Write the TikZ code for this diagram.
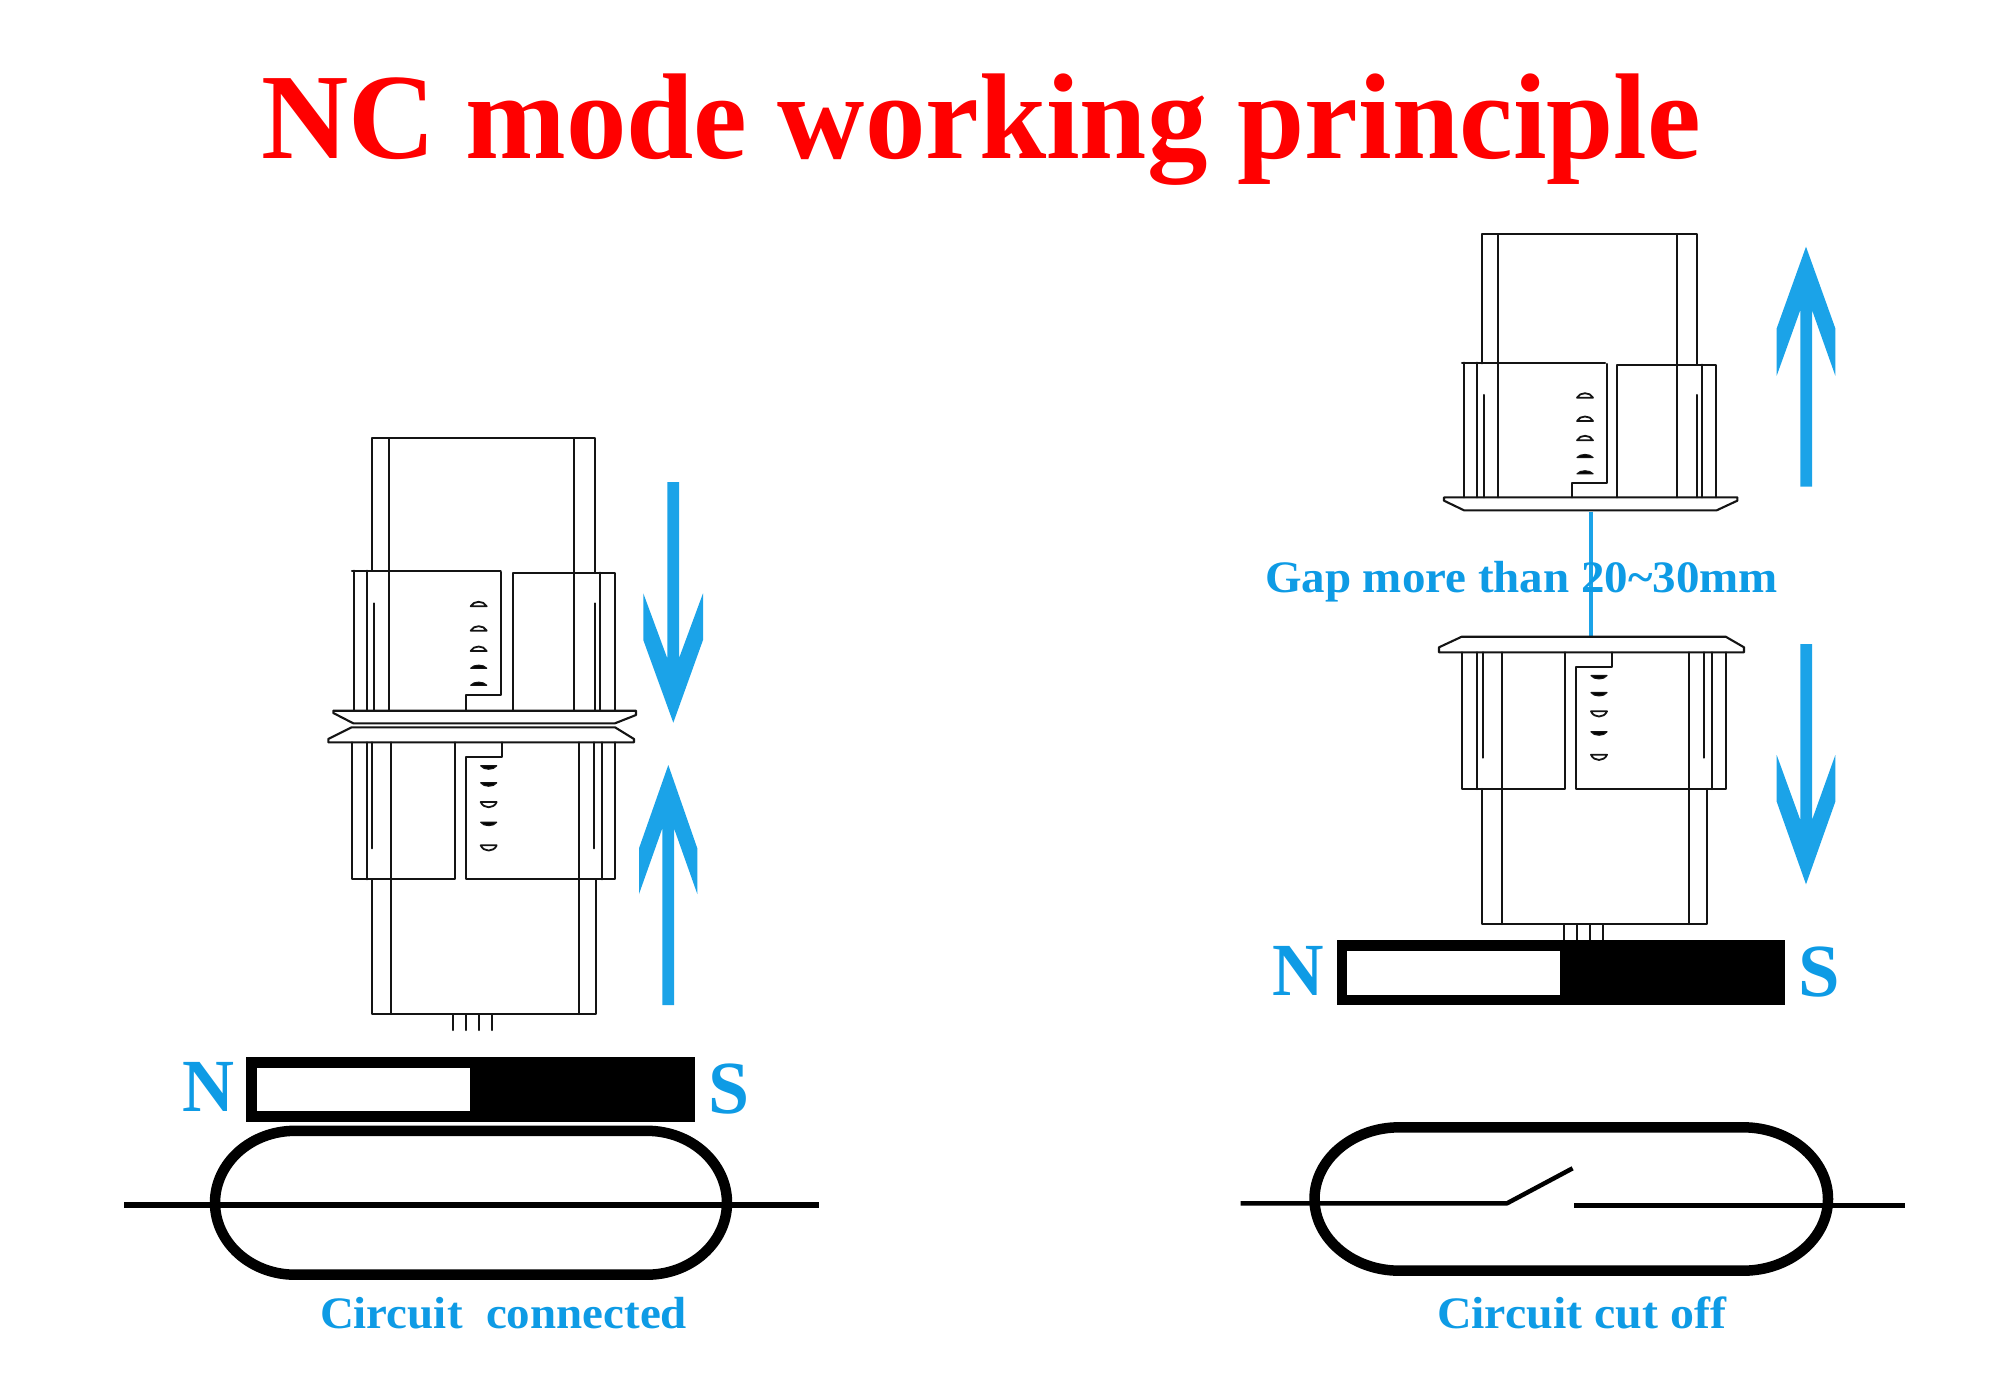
\documentclass[tikz,border=0pt]{standalone}
\usepackage{graphicx}
\usepackage{fontspec}
\setmainfont{Liberation Serif}
\definecolor{arrowblue}{RGB}{27,163,232}
\definecolor{textblue}{RGB}{14,155,229}
\newcommand{\fitw}[3]{\resizebox{#1pt}{\height}{\fontsize{#2}{#2}\selectfont\bfseries #3}}
\newcommand{\domeh}[2]{\draw[devline,line width=1.8pt,fill=white] (#1-8,#2+2) .. controls (#1-5,#2-4) and (#1+5,#2-4) .. (#1+8,#2+2) -- cycle;}
\newcommand{\domef}[2]{\draw[devline,line width=1.2pt,fill=black] (#1-8,#2+1.5) .. controls (#1-5,#2-2.5) and (#1+5,#2-2.5) .. (#1+8,#2+1.5) -- cycle;}
\newcommand{\bowlf}[2]{\draw[devline,line width=1.2pt,fill=black] (#1-8,#2-1.5) .. controls (#1-5,#2+3) and (#1+5,#2+3) .. (#1+8,#2-1.5) -- cycle;}
\newcommand{\bowlh}[2]{\draw[devline,line width=1.8pt,fill=white] (#1-8,#2-2) .. controls (#1-5,#2+5) and (#1+5,#2+5) .. (#1+8,#2-2) -- cycle;}
% \capsulepath{x1}{y1}{x2}{y2}{x radius}
\newcommand{\capsulepath}[5]{%
  \pgfmathsetmacro{\ryy}{(#4-#2)/2}%
  \draw[capsule] (#1+#5,#2) -- (#3-#5,#2)
    arc[start angle=90,end angle=0,x radius=#5 pt,y radius=\ryy pt]
    arc[start angle=0,end angle=-90,x radius=#5 pt,y radius=\ryy pt]
    -- (#1+#5,#4)
    arc[start angle=-90,end angle=-180,x radius=#5 pt,y radius=\ryy pt]
    arc[start angle=180,end angle=90,x radius=#5 pt,y radius=\ryy pt]
    -- cycle;}
\tikzset{
  devline/.style={draw=black!92,line width=2.1pt,line cap=round,line join=round},
  solidblue/.style={fill=arrowblue,draw=none},
  capsule/.style={draw=black,line width=10.5pt},
  lead/.style={draw=black,line width=#1},
  lbl/.style={inner sep=0pt,outer sep=0pt,anchor=base west,text=textblue},
}
\begin{document}
\begin{tikzpicture}[x=1pt,y=-1pt]
\useasboundingbox[fill=white] (0,0) rectangle (2000,1385);
% title
\node[lbl,text=red] (title) at (261,158) {\fitw{1440}{122}{NC mode working principle}};

% ===== left device, upper part
\draw[devline] (372.3,570.7) -- (372.3,438.3) -- (594.7,438.3) -- (594.7,572.7);
\draw[devline] (389.3,438.3) -- (389.3,710.7);
\draw[devline] (574,438.3) -- (574,710.7);
\draw[devline] (352,570.7) -- (500.7,570.7);
\draw[devline] (354,570.7) -- (354,710.7);
\draw[devline] (367.3,570.7) -- (367.3,710.7);
\draw[devline] (374.3,603.3) -- (374.3,710.7);
\draw[devline] (501.3,572) -- (501.3,695.3) -- (465.7,695.3) -- (465.7,710.7);
\draw[devline] (512.7,710.7) -- (512.7,572.7) -- (615,572.7) -- (615,710.7);
\draw[devline] (600,572.7) -- (600,710.7);
\draw[devline] (594.7,603.3) -- (594.7,710.7);
\domeh{478.7}{604.3} \domeh{478.7}{628.7} \domeh{478.7}{649} \domef{478.7}{666.7} \domef{478.7}{683.7}
\draw[devline] (333.3,713) -- (333.3,710.7) -- (636,710.7) -- (636,715) -- (615,723.3) -- (353.3,723.3) -- cycle;
% left device, lower part
\draw[devline] (351.7,727.3) -- (615,727.3) -- (634,739) -- (634,742.3) -- (328.3,742.3) -- (328.3,739) -- cycle;
\draw[devline] (351.7,742.3) -- (351.7,879.3) -- (455,879.3) -- (455,742.3);
\draw[devline] (366.7,742.3) -- (366.7,879.3);
\draw[devline] (372.3,742.3) -- (372.3,848.3);
\draw[devline] (390.7,742.3) -- (390.7,1014);
\draw[devline] (501.7,742.3) -- (501.7,757.3) -- (465.7,757.3) -- (465.7,879.3) -- (615,879.3) -- (615,742.3);
\draw[devline] (579.3,742.3) -- (579.3,1014);
\draw[devline] (601.7,742.3) -- (601.7,879.3);
\draw[devline] (594,742.3) -- (594,848.3);
\draw[devline] (372.3,879.3) -- (372.3,1014) -- (596,1014) -- (596,879.3);
\bowlf{488.7}{767.3} \bowlf{488.7}{784.3} \bowlh{488.7}{804} \bowlf{488.7}{823.7} \bowlh{488.7}{847.3}
\foreach \px in {453,466,479.3,492.3} \draw[devline,line width=2pt] (\px,1014) -- (\px,1030);

% left arrows
\fill[solidblue] (667.3,482) -- (679,482) -- (679,658.3) -- (703,593.3) -- (703,640) -- (673.3,722.7) -- (643.3,640) -- (643.3,593.3) -- (667.3,658.3) -- cycle;
\fill[solidblue] (662.3,1005) -- (674,1005) -- (674,828.3) -- (697.3,894) -- (697.3,848.3) -- (668.3,765) -- (639,848.3) -- (639,894) -- (662.3,828.3) -- cycle;

% left magnet
\fill[black] (246.4,1057.3) rectangle (694.8,1122);
\fill[white] (257,1067.7) rectangle (469.8,1111.3);
\node[lbl] (nl) at (182,1111.7) {\fitw{52}{75}{N}};
\node[lbl] (sl) at (708.5,1113) {\fitw{41}{75}{S}};
% left reed switch
\capsulepath{215}{1130.8}{727}{1274.7}{80}
\draw[lead=6.5pt] (124,1205) -- (819.3,1205);
\node[lbl] (cc) at (320,1328) {\fitw{367}{45}{Circuit\ \ connected}};

% ===== right device, upper part
\draw[devline] (1481.7,363.3) -- (1481.7,234.3) -- (1696.7,234.3) -- (1696.7,364.7);
\draw[devline] (1498.3,234.3) -- (1498.3,497.3);
\draw[devline] (1677,234.3) -- (1677,497.3);
\draw[devline] (1462,362.7) -- (1605,362.7);
\draw[devline] (1463.7,362.7) -- (1463.7,497.3);
\draw[devline] (1476.7,362.7) -- (1476.7,497.3);
\draw[devline] (1483.7,395) -- (1483.7,497.3);
\draw[devline] (1606.7,364) -- (1606.7,483.3) -- (1572.3,483.3) -- (1572.3,497.3);
\draw[devline] (1617.3,497.3) -- (1617.3,364.7) -- (1716.3,364.7) -- (1716.3,497.3);
\draw[devline] (1702.3,364.7) -- (1702.3,497.3);
\draw[devline] (1696.7,395) -- (1696.7,497.3);
\domeh{1585}{395.7} \domeh{1585}{419} \domeh{1585}{438.3} \domef{1585}{456} \domef{1585}{472.3}
\draw[devline] (1444,500.7) -- (1444,497.3) -- (1737.3,497.3) -- (1737.3,500.7) -- (1716.7,510.3) -- (1464,510.3) -- cycle;
% gap line
\coordinate (gapa) at (1591,511.7);
\coordinate (gapb) at (1591,636.7);
\draw[draw=arrowblue,line width=4pt] (gapa) -- (gapb);
\node[lbl] (gap) at (1265,592.7) {\fitw{513}{45}{Gap more than 20\char`\~30mm}};
% right device, lower part
\draw[devline] (1461.7,636.7) -- (1725.7,636.7) -- (1744,647.3) -- (1744,652.3) -- (1439,652.3) -- (1439,647.3) -- cycle;
\draw[devline] (1462,652.3) -- (1462,789) -- (1565.3,789) -- (1565.3,652.3);
\draw[devline] (1477.3,652.3) -- (1477.3,789);
\draw[devline] (1482.7,652.3) -- (1482.7,757.7);
\draw[devline] (1501.7,652.3) -- (1501.7,924);
\draw[devline] (1612.3,652.3) -- (1612.3,666.7) -- (1576,666.7) -- (1576,789) -- (1725.7,789) -- (1725.7,652.3);
\draw[devline] (1689.3,652.3) -- (1689.3,924);
\draw[devline] (1712,652.3) -- (1712,789);
\draw[devline] (1704.3,652.3) -- (1704.3,757.7);
\draw[devline] (1482.3,789) -- (1482.3,924) -- (1706.7,924) -- (1706.7,789);
\bowlf{1599}{677} \bowlf{1599}{694} \bowlh{1599}{713.3} \bowlf{1599}{733.3} \bowlh{1599}{756.7}
\foreach \px in {1563.7,1576.7,1590,1603} \draw[devline,line width=2pt] (\px,924) -- (\px,941);

% right arrows
\fill[solidblue] (1800.3,486.7) -- (1812,486.7) -- (1812,310) -- (1835.3,375.7) -- (1835.3,328.3) -- (1806,246.7) -- (1776.7,328.3) -- (1776.7,375.7) -- (1800.3,310) -- cycle;
\fill[solidblue] (1800.3,644) -- (1812,644) -- (1812,820) -- (1835.3,755) -- (1835.3,801.7) -- (1806,884.3) -- (1776.7,801.7) -- (1776.7,755) -- (1800.3,820) -- cycle;

% right magnet
\fill[black] (1337,940) rectangle (1784.7,1005);
\fill[white] (1347.2,950.7) rectangle (1560.2,995);
\node[lbl] (nr) at (1272.7,995) {\fitw{51.5}{75}{N}};
\node[lbl] (sr) at (1798.5,996) {\fitw{41.5}{75}{S}};
% right reed switch
\capsulepath{1314.5}{1127.3}{1828}{1270.7}{85}
\draw[lead=4.5pt,line join=bevel] (1240.7,1203.3) -- (1507,1203.3) -- (1572.6,1168.3);
\draw[lead=4.5pt] (1574.4,1205.7) -- (1905,1205.7);
\node[lbl] (co) at (1437,1328) {\fitw{289}{45}{Circuit cut off}};
\end{tikzpicture}
\end{document}
